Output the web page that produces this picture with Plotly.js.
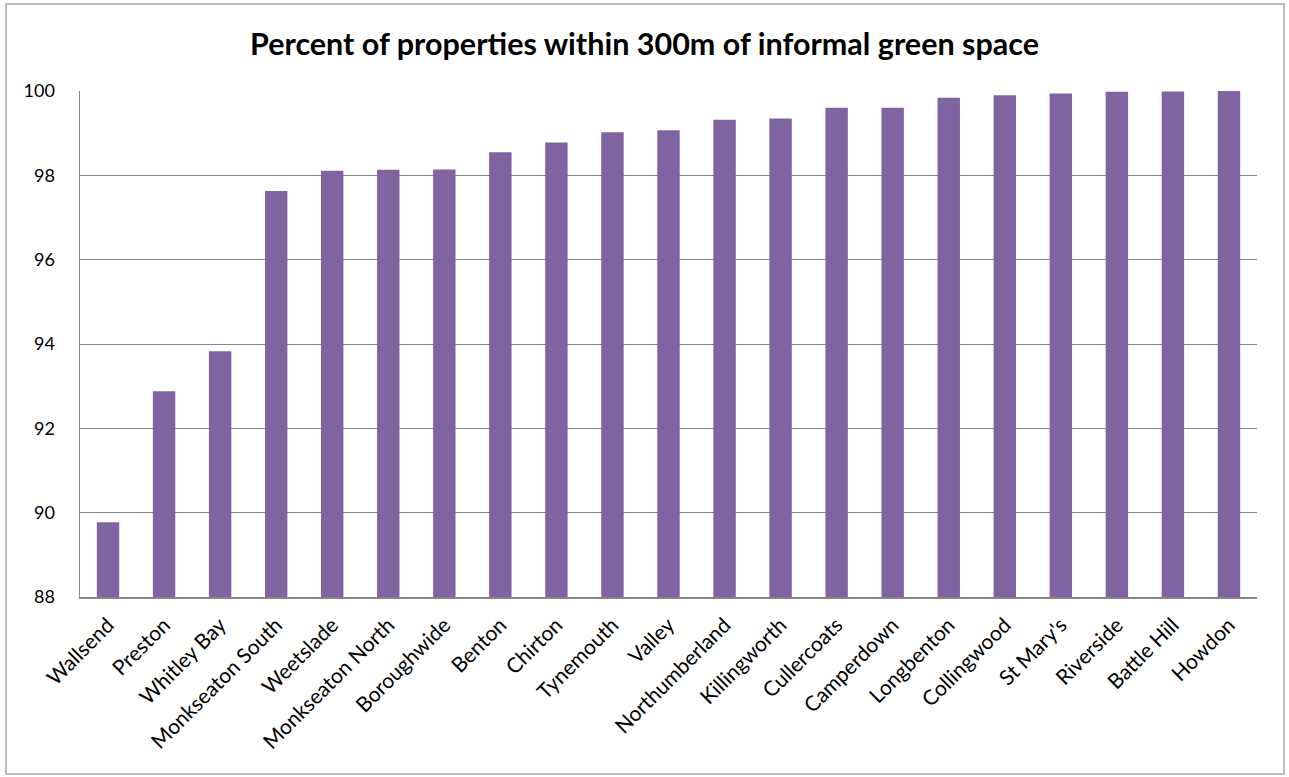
<!DOCTYPE html>
<html>
<head>
<meta charset="utf-8">
<script src="https://cdn.plot.ly/plotly-3.0.1.min.js"></script>
<style>
  html, body { margin: 0; padding: 0; background: #fff; }
  #chart { position: absolute; left: 0; top: 0; width: 1289px; height: 777px; }
  #frame { position: absolute; left: 5px; top: 3px; width: 1276px; height: 768px;
           border: 2px solid #bdbdbd; pointer-events: none; }
</style>
</head>
<body>
<div id="chart"></div>
<div id="frame"></div>
<script>
const wards = ["Wallsend", "Preston", "Whitley Bay", "Monkseaton South", "Weetslade",
  "Monkseaton North", "Boroughwide", "Benton", "Chirton", "Tynemouth", "Valley",
  "Northumberland", "Killingworth", "Cullercoats", "Camperdown", "Longbenton",
  "Collingwood", "St Mary's", "Riverside", "Battle Hill", "Howdon"];
const percentWithin300m = [89.77, 92.88, 93.83, 97.63, 98.11, 98.13, 98.14, 98.55, 98.78,
  99.02, 99.07, 99.32, 99.35, 99.60, 99.60, 99.84, 99.90, 99.94, 99.98, 99.99, 100.0];
const yTicks = [88, 90, 92, 94, 96, 98, 100];

const font = "Lato, 'Open Sans', sans-serif";

Plotly.newPlot("chart", [{
  type: "bar",
  x: wards,
  y: percentWithin300m,
  marker: { color: "#8064A2" },
  hoverinfo: "x+y"
}], {
  width: 1289, height: 777,
  margin: { l: 80, r: 32, t: 91, b: 180 },
  paper_bgcolor: "#fff", plot_bgcolor: "#fff",
  bargap: 0.6,
  showlegend: false,
  title: {
    text: "<b>Percent of properties within 300m of informal green space</b>",
    font: { family: font, size: 30.5, color: "#000" },
    x: 0.5, xanchor: "center", y: 0.943, yanchor: "middle"
  },
  xaxis: {
    type: "category",
    tickangle: -45,
    tickfont: { family: font, size: 21, color: "#000" },
    showline: true, linecolor: "#868686", linewidth: 1.5,
    ticks: "", showgrid: false, ticklabelstandoff: 6
  },
  yaxis: {
    range: [88, 100],
    tickvals: yTicks,
    ticktext: yTicks.map(String),
    tickfont: { family: font, size: 18, color: "#000" },
    showline: true, linecolor: "#868686", linewidth: 1.5,
    gridcolor: "#868686", gridwidth: 1,
    zeroline: false, ticks: "", ticklabelstandoff: 20
  }
}, { displayModeBar: false, staticPlot: true });
</script>
</body>
</html>
